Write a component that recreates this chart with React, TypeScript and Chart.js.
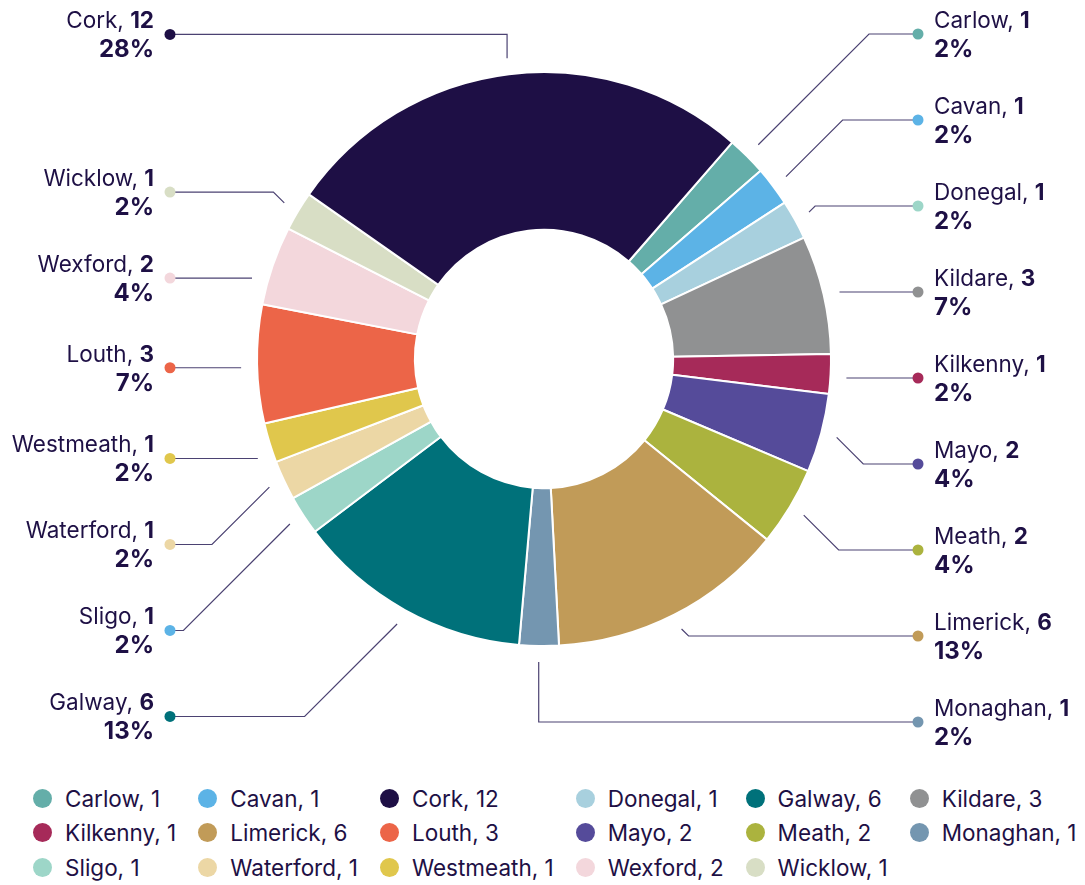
import React, { useEffect, useRef } from "react";
import { Chart, registerables } from "chart.js";

Chart.register(...registerables);

// Slices in drawing order (clockwise from the top-right)
const counties = ["Carlow", "Cavan", "Donegal", "Kildare", "Kilkenny", "Mayo", "Meath", "Limerick", "Monaghan", "Galway", "Sligo", "Waterford", "Westmeath", "Louth", "Wexford", "Wicklow", "Cork"];
const counts = [1, 1, 1, 3, 1, 2, 2, 6, 1, 6, 1, 1, 1, 3, 2, 1, 12];
const percentLabels = ["2%", "2%", "2%", "7%", "2%", "4%", "4%", "13%", "2%", "13%", "2%", "2%", "2%", "7%", "4%", "2%", "28%"];
const sliceColors = ["#64aea9", "#5cb3e6", "#a8d0de", "#909192", "#a62a59", "#554b9a", "#abb33e", "#c19b58", "#7496b0", "#00717a", "#9dd6c8", "#ecd7a5", "#e0c74c", "#ec6548", "#f3d7dc", "#d8dec5", "#1e0f45"];
const dotColors = ["#64aea9", "#5cb3e6", "#9dd6c8", "#909192", "#a62a59", "#554b9a", "#abb33e", "#c19b58", "#7496b0", "#00717a", "#5cb3e6", "#ecd7a5", "#e0c74c", "#ec6548", "#f3d7dc", "#d8dec5", "#1e0f45"];

const TEXT = "#1e1045";
const LINE = "#4b4272";
const FONT = "Inter, 'Noto Sans', sans-serif";
const NAME_SIZE = 22.5;
const PCT_SIZE = 24;

const W = 1085;
const H = 775;
const CX = 544;
const CY = 359;
const R = 287;

const calloutPlugin = {
  id: "callouts",
  afterDraw(chart: any) {
    const ctx = chart.ctx as CanvasRenderingContext2D;
    const meta = chart.getDatasetMeta(0);
    const items: any[] = [];
    meta.data.forEach((arc: any, i: number) => {
      const p = arc.getProps(["x", "y", "startAngle", "endAngle", "outerRadius"], true);
      const a = (p.startAngle + p.endAngle) / 2;
      const cos = Math.cos(a);
      const sin = Math.sin(a);
      const rs = p.outerRadius + 16;
      items.push({
        i,
        cx: p.x,
        cy: p.y,
        cos,
        sin,
        rs,
        px: p.x + rs * cos,
        py: p.y + rs * sin,
        ny: p.y + 3 + (p.outerRadius + 43) * sin,
        right: cos > -0.05,
        R: p.outerRadius,
      });
    });
    const gap = 86;
    const layout = (arr: any[]) => {
      if (!arr.length) return;
      const cy = arr[0].cy;
      const R0 = arr[0].R;
      const top = cy - (R0 + 39);
      const bottom = cy + R0 + 76;
      arr.sort((a, b) => a.ny - b.ny);
      let prev = -Infinity;
      for (const it of arr) { it.y = Math.max(it.ny, prev + gap, top); prev = it.y; }
      let next = Infinity;
      for (let k = arr.length - 1; k >= 0; k--) { arr[k].y = Math.min(arr[k].y, next - gap, bottom); next = arr[k].y; }
      prev = -Infinity;
      for (const it of arr) { it.y = Math.max(it.y, prev + gap, top); prev = it.y; }
    };
    const rightItems = items.filter((d) => d.right);
    const leftItems = items.filter((d) => !d.right);
    layout(rightItems);
    layout(leftItems);

    ctx.save();
    for (const it of items) {
      const dir = it.right ? 1 : -1;
      const dotX = it.cx + dir * (it.R + 87);
      const ly = it.y;
      ctx.strokeStyle = LINE;
      ctx.lineWidth = 1.2;
      ctx.beginPath();
      const dy = ly - it.py;
      if (Math.abs(dy) < 20 && Math.abs(it.cos) > 0.9) {
        const hx = Math.sqrt(Math.max(it.rs * it.rs - (ly - it.cy) * (ly - it.cy), 0));
        ctx.moveTo(it.cx + dir * hx, ly);
        ctx.lineTo(dotX, ly);
      } else if (Math.abs(it.cos) < 0.2) {
        ctx.moveTo(it.px, it.py);
        ctx.lineTo(it.px, ly);
        ctx.lineTo(dotX, ly);
      } else {
        const ex = it.px + dir * Math.abs(dy);
        ctx.moveTo(it.px, it.py);
        ctx.lineTo(ex, ly);
        ctx.lineTo(dotX, ly);
      }
      ctx.stroke();

      ctx.fillStyle = dotColors[it.i];
      ctx.beginPath();
      ctx.arc(dotX, ly, 5.5, 0, Math.PI * 2);
      ctx.fill();

      const name = counties[it.i] + ", ";
      const num = String(counts[it.i]);
      const pct = percentLabels[it.i];
      ctx.fillStyle = TEXT;
      ctx.textBaseline = "alphabetic";
      ctx.textAlign = "left";
      ctx.font = `400 ${NAME_SIZE}px ${FONT}`;
      const wName = ctx.measureText(name).width;
      ctx.font = `700 ${NAME_SIZE}px ${FONT}`;
      const wNum = ctx.measureText(num).width;
      ctx.font = `700 ${PCT_SIZE}px ${FONT}`;
      const wPct = ctx.measureText(pct).width;
      const line1Y = ly - 6;
      const line2Y = ly + 23;
      let x1: number, x2: number;
      if (it.right) {
        x1 = dotX + 16;
        x2 = dotX + 16;
      } else {
        x1 = dotX - 16 - (wName + wNum);
        x2 = dotX - 16 - wPct;
      }
      ctx.font = `400 ${NAME_SIZE}px ${FONT}`;
      ctx.fillText(name, x1, line1Y);
      ctx.font = `700 ${NAME_SIZE}px ${FONT}`;
      ctx.fillText(num, x1 + wName, line1Y);
      ctx.font = `700 ${PCT_SIZE}px ${FONT}`;
      ctx.fillText(pct, x2, line2Y);
    }
    ctx.restore();
  },
};

export default function App() {
  const ref = useRef<HTMLCanvasElement | null>(null);
  useEffect(() => {
    document.body.style.margin = "0";
    const canvas = ref.current;
    if (!canvas) return;
    const side = 2 * (R + 1);
    const padLeft = CX - (R + 1);
    const padTop = CY - (R + 1);
    const chart = new Chart(canvas, {
      type: "doughnut",
      data: {
        labels: counties,
        datasets: [
          {
            data: counts,
            backgroundColor: sliceColors,
            borderColor: "#ffffff",
            borderWidth: 2,
            hoverOffset: 0,
          },
        ],
      },
      options: {
        responsive: false,
        animation: false,
        devicePixelRatio: 1,
        cutout: "45%",
        rotation: 41,
        layout: {
          padding: {
            left: padLeft,
            top: padTop,
            right: W - padLeft - side,
            bottom: H - padTop - side,
          },
        },
        plugins: {
          legend: { display: false },
          tooltip: { enabled: false },
        },
      },
      plugins: [calloutPlugin],
    });
    return () => chart.destroy();
  }, []);

  const legendOrder = counties
    .map((c, i) => i)
    .sort((a, b) => counties[a].localeCompare(counties[b]));

  return (
    <div style={{ width: W, fontFamily: FONT }}>
      <canvas ref={ref} width={W} height={H} style={{ display: "block" }} />
      <div
        style={{
          display: "grid",
          gridTemplateColumns: "repeat(6, max-content)",
          justifyContent: "start",
          columnGap: 22,
          paddingLeft: 33,
          marginTop: 6,
          fontSize: NAME_SIZE,
          color: TEXT,
        }}
      >
        {legendOrder.map((i) => (
          <div key={counties[i]} style={{ display: "flex", alignItems: "center", height: 34.5, whiteSpace: "nowrap" }}>
            <span
              style={{
                display: "inline-block",
                width: 19,
                height: 19,
                borderRadius: "50%",
                background: sliceColors[i],
                marginRight: 13,
                flex: "none",
              }}
            />
            <span>{counties[i] + ", " + counts[i]}</span>
          </div>
        ))}
      </div>
    </div>
  );
}
